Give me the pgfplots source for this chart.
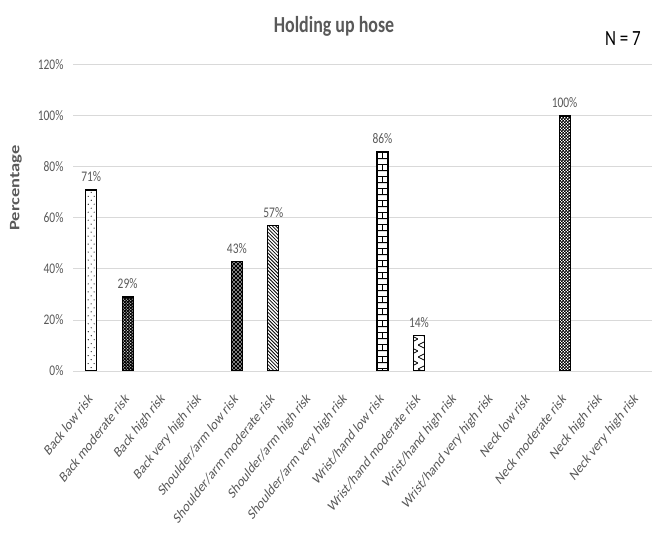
\documentclass[border=0pt]{standalone}
\usepackage{pgfplots}
\pgfplotsset{compat=1.18}
\usepackage{fontspec}
\setmainfont{Carlito}
\usetikzlibrary{patterns}

\definecolor{txtgray}{HTML}{595959}
\definecolor{gridgray}{HTML}{D9D9D9}

% fill patterns for the individual bars
\pgfdeclarepatternformonly{sparsedots}{\pgfqpoint{-1pt}{-1pt}}{\pgfqpoint{7pt}{9pt}}{\pgfqpoint{6pt}{8pt}}{%
  \pgfpathcircle{\pgfqpoint{1.5pt}{1pt}}{0.6pt}%
  \pgfpathcircle{\pgfqpoint{4.5pt}{5pt}}{0.6pt}%
  \pgfusepath{fill}}
\pgfdeclarepatternformonly{whitedots}{\pgfqpoint{-1pt}{-1pt}}{\pgfqpoint{4pt}{4pt}}{\pgfqpoint{3pt}{3pt}}{%
  \pgfpathcircle{\pgfqpoint{0.75pt}{0.75pt}}{0.6pt}%
  \pgfpathcircle{\pgfqpoint{2.25pt}{2.25pt}}{0.6pt}%
  \pgfusepath{fill}}
\pgfdeclarepatternformonly{whitediamonds}{\pgfqpoint{0pt}{0pt}}{\pgfqpoint{4pt}{4pt}}{\pgfqpoint{4pt}{4pt}}{%
  \pgfpathmoveto{\pgfqpoint{1pt}{0.2pt}}\pgfpathlineto{\pgfqpoint{1.8pt}{1pt}}%
  \pgfpathlineto{\pgfqpoint{1pt}{1.8pt}}\pgfpathlineto{\pgfqpoint{0.2pt}{1pt}}\pgfpathclose
  \pgfpathmoveto{\pgfqpoint{3pt}{2.2pt}}\pgfpathlineto{\pgfqpoint{3.8pt}{3pt}}%
  \pgfpathlineto{\pgfqpoint{3pt}{3.8pt}}\pgfpathlineto{\pgfqpoint{2.2pt}{3pt}}\pgfpathclose
  \pgfusepath{fill}}
\pgfdeclarepatternformonly{diaglines}{\pgfqpoint{-1pt}{-1pt}}{\pgfqpoint{4.5pt}{4.5pt}}{\pgfqpoint{3.5pt}{3.5pt}}{%
  \pgfsetlinewidth{0.8pt}%
  \pgfpathmoveto{\pgfqpoint{0pt}{3.5pt}}\pgfpathlineto{\pgfqpoint{3.5pt}{0pt}}%
  \pgfusepath{stroke}}
\pgfdeclarepatternformonly{bricksmall}{\pgfqpoint{0pt}{0pt}}{\pgfqpoint{12pt}{12pt}}{\pgfqpoint{12pt}{12pt}}{%
  \pgfsetlinewidth{0.9pt}%
  \pgfpathmoveto{\pgfqpoint{0pt}{0.45pt}}\pgfpathlineto{\pgfqpoint{12pt}{0.45pt}}%
  \pgfpathmoveto{\pgfqpoint{0pt}{6.45pt}}\pgfpathlineto{\pgfqpoint{12pt}{6.45pt}}%
  \pgfpathmoveto{\pgfqpoint{6pt}{0pt}}\pgfpathlineto{\pgfqpoint{6pt}{6pt}}%
  \pgfpathmoveto{\pgfqpoint{0.45pt}{6pt}}\pgfpathlineto{\pgfqpoint{0.45pt}{12pt}}%
  \pgfusepath{stroke}}
\pgfdeclarepatternformonly{zigzag}{\pgfqpoint{0pt}{0pt}}{\pgfqpoint{12pt}{12pt}}{\pgfqpoint{12pt}{12pt}}{%
  \pgfsetlinewidth{0.8pt}%
  \pgfpathmoveto{\pgfqpoint{0pt}{0pt}}\pgfpathlineto{\pgfqpoint{12pt}{6pt}}%
  \pgfpathlineto{\pgfqpoint{0pt}{12pt}}%
  \pgfusepath{stroke}}
\pgfdeclarepatternformonly{smallcheck}{\pgfqpoint{0pt}{0pt}}{\pgfqpoint{3pt}{3pt}}{\pgfqpoint{3pt}{3pt}}{%
  \pgfpathrectangle{\pgfqpoint{0pt}{0pt}}{\pgfqpoint{1.7pt}{1.7pt}}%
  \pgfpathrectangle{\pgfqpoint{1.5pt}{1.5pt}}{\pgfqpoint{1.5pt}{1.5pt}}%
  \pgfusepath{fill}}

\begin{document}
\begin{tikzpicture}
\path[use as bounding box] (0,0) rectangle (652bp,536bp);
\begin{axis}[
  at={(73bp,165bp)}, anchor=south west,
  scale only axis, width=579bp, height=306bp,
  xmin=-0.5, xmax=15.4, ymin=0, ymax=120,
  ybar, bar width=11bp, bar shift=0pt,
  axis line style={draw=none},
  tick style={draw=none},
  ymajorgrids, grid style={draw=gridgray, line width=1pt},
  ytick={0,20,...,120},
  yticklabel={\pgfmathprintnumber{\tick}\%},
  /pgf/number format/assume math mode=true,
  y tick label style={xshift=-6bp, yscale=1.28, font=\fontsize{11.5}{13}\selectfont, text=txtgray},
  xtick={0,...,15},
  xticklabels={Back low risk, Back moderate risk, Back high risk, Back very high risk,
    Shoulder/arm low risk, Shoulder/arm moderate risk, Shoulder/arm high risk,
    Shoulder/arm very high risk, Wrist/hand low risk, Wrist/hand moderate risk,
    Wrist/hand high risk, Wrist/hand very high risk, Neck low risk,
    Neck moderate risk, Neck high risk, Neck very high risk},
  x tick label style={yshift=-20bp, xshift=0bp, yscale=1.28, rotate=45, anchor=east,
    font=\fontsize{12}{14}\selectfont, text=txtgray, inner sep=1pt},
  nodes near coords={\pgfmathprintnumber{\pgfplotspointmeta}\%},
  nodes near coords style={yshift=3bp, yscale=1.28, font=\fontsize{11.5}{13}\selectfont, text=txtgray},
  every axis plot/.append style={draw=black, line width=1.2pt},
]
% Back
\addplot[fill=white, postaction={pattern=sparsedots}] coordinates {(0,71)};
\addplot[fill=black, postaction={pattern=whitedots, pattern color=white}] coordinates {(1,29)};
% Shoulder/arm
\addplot[fill=black, postaction={pattern=whitediamonds, pattern color=white}] coordinates {(4,43)};
\addplot[fill=white, postaction={pattern=diaglines}] coordinates {(5,57)};
% Wrist/hand
\addplot[fill=white, postaction={pattern=bricksmall}] coordinates {(8,86)};
\addplot[fill=white, postaction={pattern=zigzag}] coordinates {(9,14)};
% Neck
\addplot[fill=white, postaction={pattern=smallcheck}] coordinates {(13,100)};
\end{axis}
\node[anchor=base, yscale=1.28, font=\fontsize{18}{20}\selectfont\bfseries, text=txtgray] at (334bp,503bp) {Holding up hose};
\node[anchor=base, yscale=1.28, font=\fontsize{17}{19}\selectfont, text=black] at (623bp,490bp) {N = 7};
\node[yscale=1.28, rotate=90, font=\fontsize{14.5}{16}\selectfont\bfseries, text=txtgray] at (16bp,348bp) {Percentage};
\end{tikzpicture}
\end{document}
